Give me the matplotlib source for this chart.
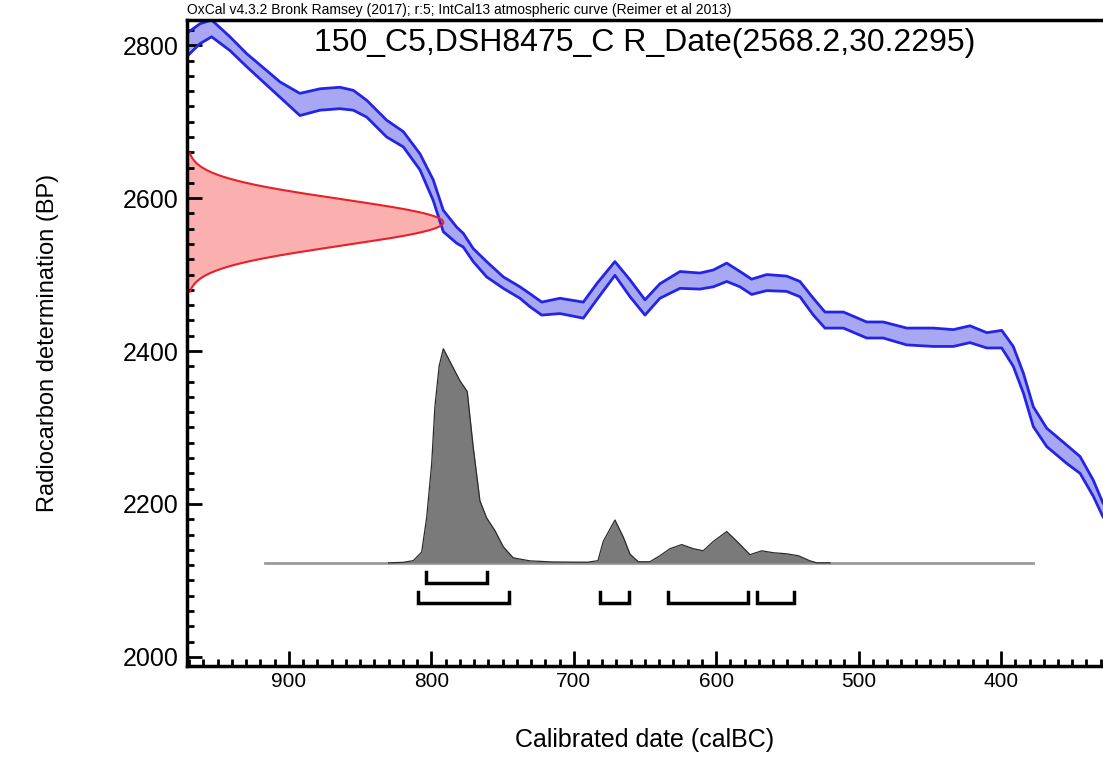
import numpy as np
import matplotlib
matplotlib.use('Agg')
import matplotlib.pyplot as plt
from matplotlib.ticker import MultipleLocator

plt.rcParams['font.family'] = ['Liberation Sans', 'DejaVu Sans']

# IntCal13 band (calBC, upper / lower BP)
cal_x = [976, 970.7, 962.5, 954.3, 941.4, 929.7, 915.7, 906.3, 892.3, 878.2, 864.2, 854.8,
         845.4, 831.4, 819.7, 808.0, 798.7, 791.6, 782.2, 777.6, 770.6, 761.2, 749.5, 737.8,
         730.8, 722.5, 709.7, 693.3, 683.9, 671.1, 660.5, 650.0, 639.5, 625.4, 611.4, 602.0,
         592.6, 583.3, 575.1, 564.5, 550.5, 541.2, 531.8, 523.6, 510.7, 494.3, 482.7, 466.2,
         447.5, 433.5, 421.8, 410.0, 399.5, 391.4, 384.3, 377.3, 367.9, 353.9, 344.5, 335.2,
         328.4, 322]
cal_upper = [2810, 2817, 2828, 2833, 2811, 2789, 2767, 2752, 2737, 2743, 2745, 2741,
             2728, 2702, 2687, 2658, 2624, 2584, 2562, 2554, 2534, 2517, 2497, 2484,
             2475, 2464, 2469, 2464, 2488, 2517, 2493, 2467, 2488, 2504, 2502, 2506,
             2515, 2504, 2494, 2500, 2498, 2491, 2469, 2451, 2451, 2438, 2438, 2430,
             2430, 2428, 2433, 2424, 2427, 2406, 2371, 2327, 2299, 2277, 2262, 2231,
             2201, 2190]
cal_lower = [2780, 2787, 2802, 2811, 2793, 2772, 2748, 2732, 2708, 2715, 2717, 2715,
             2706, 2680, 2667, 2637, 2597, 2556, 2541, 2536, 2517, 2497, 2482, 2469,
             2458, 2447, 2449, 2443, 2467, 2499, 2471, 2447, 2469, 2482, 2481, 2484,
             2491, 2484, 2474, 2479, 2478, 2471, 2447, 2430, 2430, 2417, 2417, 2408,
             2406, 2406, 2411, 2404, 2404, 2380, 2345, 2301, 2275, 2253, 2240, 2210,
             2183, 2172]

# radiocarbon date
r_mean = 2568.2
r_sigma = 30.2295

# calibrated probability (relative)
dist_x = [830, 820, 812.7, 806.8, 803.3, 799.8, 797.5, 794.5, 791.6, 779.9, 774.8, 770.6,
          765.9, 761.2, 755.3, 749.5, 742.5, 730.8, 715, 700, 690, 683, 679.3, 671.1,
          665.2, 660.5, 654.7, 646.5, 639.5, 632.4, 624.2, 616.1, 609.1, 602.0, 592.6,
          584.5, 576.3, 568.0, 559.9, 550.5, 542.3, 534.1, 529.4, 520]
dist_p = [0, 0.002, 0.01, 0.05, 0.21, 0.46, 0.73, 0.92, 1.0, 0.85, 0.80, 0.54,
          0.29, 0.21, 0.15, 0.075, 0.023, 0.009, 0.004, 0.003, 0.003, 0.01, 0.10, 0.20,
          0.12, 0.04, 0.005, 0.005, 0.033, 0.066, 0.085, 0.066, 0.056, 0.10, 0.146,
          0.094, 0.038, 0.056, 0.047, 0.042, 0.033, 0.009, 0.0, 0]
dist_range = [917, 377.5]

# highest probability ranges
range_68 = [(804, 761)]
range_95 = [(809.5, 745.5), (681.6, 661.2), (633.8, 577.7), (571.3, 545.4)]

xlim = (971.6, 328.4)
ylim = (1988, 2833)

fig = plt.figure(figsize=(11.03, 7.57), dpi=100)
ax = fig.add_axes([0.1695, 0.1202, 0.8305, 0.8534])
ax.set_xlim(*xlim)
ax.set_ylim(*ylim)

# calibration curve
ax.fill_between(cal_x, cal_lower, cal_upper, color='#a8a8f2', lw=0)
ax.plot(cal_x, cal_upper, color='#2424e6', lw=2)
ax.plot(cal_x, cal_lower, color='#2424e6', lw=2)

# radiocarbon gaussian on the y axis
yy = np.linspace(r_mean - 3 * r_sigma, r_mean + 3 * r_sigma, 200)
g = np.exp(-0.5 * ((yy - r_mean) / r_sigma) ** 2)
xx = xlim[0] - 180 * g
ax.fill_betweenx(yy, xlim[0], xx, color='#fbb0b0', lw=0)
ax.plot(xx, yy, color='#e8202a', lw=1.5)

# calibrated distribution
base = 2123
dx = np.array(dist_x)
dy = base + 280 * np.array(dist_p)
ax.plot(dist_range, [base, base], color='#9a9a9a', lw=2, zorder=2)
ax.fill_between(dx, base, dy, color='#7a7a7a', lw=0, zorder=3)
ax.plot(dx, dy, color='#2a2a2a', lw=0.9, zorder=4)

# range brackets
def bracket(a, b, y):
    ax.plot([a, a, b, b], [y + 14, y, y, y + 14], color='black', lw=2.5,
            solid_joinstyle='miter', zorder=5)

for a, b in range_68:
    bracket(a, b, 2097)
for a, b in range_95:
    bracket(a, b, 2071)

# axes styling
for side in ['left', 'bottom', 'top']:
    ax.spines[side].set_linewidth(2.5)
ax.spines['right'].set_visible(False)
ax.xaxis.set_major_locator(MultipleLocator(100))
ax.xaxis.set_minor_locator(MultipleLocator(10))
ax.yaxis.set_major_locator(MultipleLocator(200))
ax.yaxis.set_minor_locator(MultipleLocator(20))
ax.tick_params(which='both', direction='in', width=2, color='black')
ax.tick_params(which='major', length=11)
ax.tick_params(which='minor', length=5)
ax.tick_params(axis='y', labelsize=18, pad=6)
ax.tick_params(axis='x', labelsize=15, pad=4)

ax.set_xlabel('Calibrated date (calBC)', fontsize=18, labelpad=27)
ax.set_ylabel('Radiocarbon determination (BP)', fontsize=17, labelpad=46)

ax.text(0.5, 0.965, '150_C5,DSH8475_C R_Date(2568.2,30.2295)', transform=ax.transAxes,
        ha='center', va='center', fontsize=23)
fig.text(0.1695, 1 - 10 / 757, 'OxCal v4.3.2 Bronk Ramsey (2017); r:5; IntCal13 atmospheric curve (Reimer et al 2013)',
         ha='left', va='center', fontsize=10)

fig.savefig('out.png', dpi=100)
